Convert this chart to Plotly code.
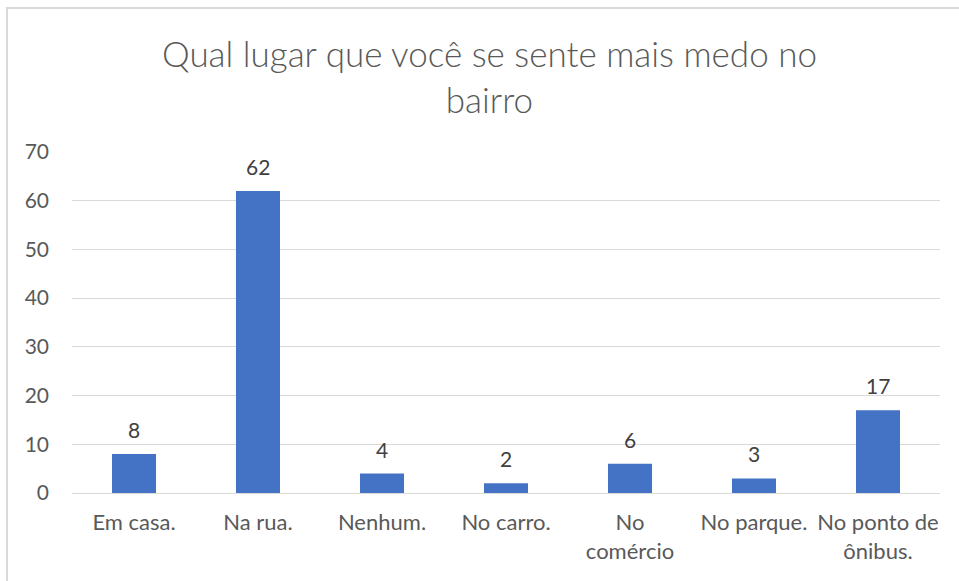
import plotly.graph_objects as go

categories = ["Em casa.", "Na rua.", "Nenhum.", "No carro.", "No<br>comércio", "No parque.", "No ponto de<br>ônibus."]
values = [8, 62, 4, 2, 6, 3, 17]
y_ticks = [0, 10, 20, 30, 40, 50, 60, 70]
title_text = "Qual lugar que você se sente mais medo no<br>bairro"

FONT = "Lato"
GRAY = "#595959"

fig = go.Figure()
fig.add_trace(go.Bar(x=categories, y=values, marker=dict(color="#4472C4", line=dict(width=0)),
                     width=0.355, hoverinfo="x+y"))

annotations = []
for c, v in zip(categories, values):
    annotations.append(dict(x=c, y=v, xref="x", yref="y", text=str(v), showarrow=False,
                            yanchor="bottom", yshift=10,
                            font=dict(family=FONT, size=21, color="#404040")))
annotations.append(dict(x=(489 - 72) / 868, y=(493 - 30) / 341, xref="paper", yref="paper",
                        text=title_text, showarrow=False, xanchor="center", yanchor="top",
                        font=dict(family=FONT, size=35, color=GRAY, weight=300),
                        align="center"))

fig.update_layout(
    width=959, height=581,
    margin=dict(l=72, r=19, t=152, b=88),
    paper_bgcolor="white", plot_bgcolor="white",
    showlegend=False,
    annotations=annotations,
    xaxis=dict(showgrid=False, showline=False, zeroline=False, ticks="",
               tickfont=dict(family=FONT, size=22, color=GRAY), ticklabelstandoff=14,
               fixedrange=True),
    yaxis=dict(range=[0, 70], tickvals=y_ticks, showgrid=True, gridcolor="#d9d9d9", gridwidth=1,
               zeroline=True, zerolinecolor="#d9d9d9", zerolinewidth=1, showline=False, ticks="",
               tickfont=dict(family=FONT, size=21, color=GRAY), ticklabelstandoff=22,
               fixedrange=True),
    shapes=[dict(type="rect", xref="paper", yref="paper",
                 x0=(7 - 72) / 868, x1=1.2, y0=-0.5, y1=(493 - 8) / 341,
                 line=dict(color="#d9d9d9", width=2), fillcolor="rgba(0,0,0,0)", layer="below")],
)

fig.write_html("out.html", config={"displayModeBar": False},
               post_script="document.body.style.margin='0';document.body.style.overflow='hidden';")
